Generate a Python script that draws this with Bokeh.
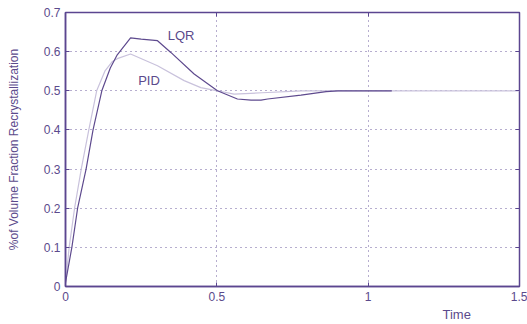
from bokeh.plotting import figure
from bokeh.models import FixedTicker, LinearAxis, Label, Range1d, Title
from bokeh.embed import file_html
from bokeh.resources import INLINE

# LQR response
lqr_t = [0.0, 0.021, 0.040, 0.068, 0.091, 0.12, 0.148, 0.171, 0.215, 0.25, 0.304,
         0.348, 0.425, 0.502, 0.568, 0.613, 0.646, 0.668, 0.778, 0.861, 0.9, 1.078]
lqr_y = [0.01, 0.1, 0.2, 0.3, 0.4, 0.5, 0.558, 0.592, 0.635, 0.632, 0.628,
         0.598, 0.543, 0.5, 0.479, 0.476, 0.476, 0.479, 0.489, 0.498, 0.5, 0.5]

# PID response
pid_t = [0.0, 0.012, 0.030, 0.052, 0.077, 0.103, 0.13, 0.155, 0.171, 0.215, 0.304,
         0.392, 0.447, 0.502, 0.557, 0.65, 0.78, 1.5]
pid_y = [0.005, 0.1, 0.2, 0.3, 0.4, 0.5, 0.55, 0.575, 0.582, 0.594, 0.564,
         0.526, 0.508, 0.5, 0.4915, 0.495, 0.5, 0.5]

x_ticks = [0, 0.5, 1, 1.5]
x_labels = ["0", "0.5", "1", "1.5"]
y_ticks = [0, 0.1, 0.2, 0.3, 0.4, 0.5, 0.6, 0.7]
y_labels = ["0", "0.1", "0.2", "0.3", "0.4", "0.5", "0.6", "0.7"]

AX = "#5b4690"
TXT = "#5b4a8c"
FONT = "Liberation Sans"

p = figure(width=527, height=324, output_backend="svg", toolbar_location=None,
           x_range=Range1d(0, 1.5), y_range=Range1d(0, 0.7),
           min_border_left=65, min_border_right=8, min_border_top=12, min_border_bottom=38)
p.background_fill_color = "white"
p.border_fill_color = "white"
p.outline_line_color = AX
p.outline_line_width = 1.5

for ax, ticks, labels in ((p.xaxis[0], x_ticks, x_labels), (p.yaxis[0], y_ticks, y_labels)):
    ax.ticker = FixedTicker(ticks=ticks)
    ax.major_label_overrides = {t: l for t, l in zip(ticks, labels)}
    ax.axis_line_color = AX
    ax.axis_line_width = 1.5
    ax.major_tick_line_color = AX
    ax.major_tick_in = 4
    ax.major_tick_out = 0
    ax.minor_tick_line_color = None
    ax.major_label_text_font = FONT
    ax.major_label_text_font_size = "12px"
    ax.major_label_text_color = TXT
    ax.major_label_standoff = 5

p.yaxis[0].axis_label = "%of Volume Fraction Recrystallization"
p.yaxis[0].axis_label_text_font = FONT
p.yaxis[0].axis_label_text_font_size = "12px"
p.yaxis[0].axis_label_text_font_style = "normal"
p.yaxis[0].axis_label_text_color = TXT
p.yaxis[0].axis_label_standoff = 20

for loc, ticks in (("above", x_ticks), ("right", y_ticks)):
    a = LinearAxis(ticker=FixedTicker(ticks=ticks))
    a.major_label_text_color = None
    a.major_label_text_font_size = "1px"
    a.major_label_standoff = 0
    a.axis_line_color = None
    a.major_tick_line_color = AX
    a.major_tick_in = 4
    a.major_tick_out = 0
    a.minor_tick_line_color = None
    p.add_layout(a, loc)

p.xgrid.ticker = FixedTicker(ticks=x_ticks)
p.ygrid.ticker = FixedTicker(ticks=y_ticks)
for g in (p.xgrid[0], p.ygrid[0]):
    g.grid_line_color = "#6e5d9e"
    g.grid_line_dash = "1 4"
    g.grid_line_width = 1

p.line(pid_t, pid_y, line_color="#c9c2dc", line_width=1.2)
p.line(lqr_t, lqr_y, line_color="#5e4a8e", line_width=1.2)

p.add_layout(Label(x=0.382, y=0.641, text="LQR", text_font=FONT, text_font_size="13px",
                   text_color=TXT, text_align="center", text_baseline="middle"))
p.add_layout(Label(x=0.276, y=0.526, text="PID", text_font=FONT, text_font_size="13px",
                   text_color=TXT, text_align="center", text_baseline="middle"))
p.add_layout(Title(text="Time", align="left", offset=377, text_font=FONT,
                   text_font_size="13px", text_font_style="normal", text_color=TXT,
                   standoff=3), "below")

open("out.html", "w").write(file_html(p, INLINE))
